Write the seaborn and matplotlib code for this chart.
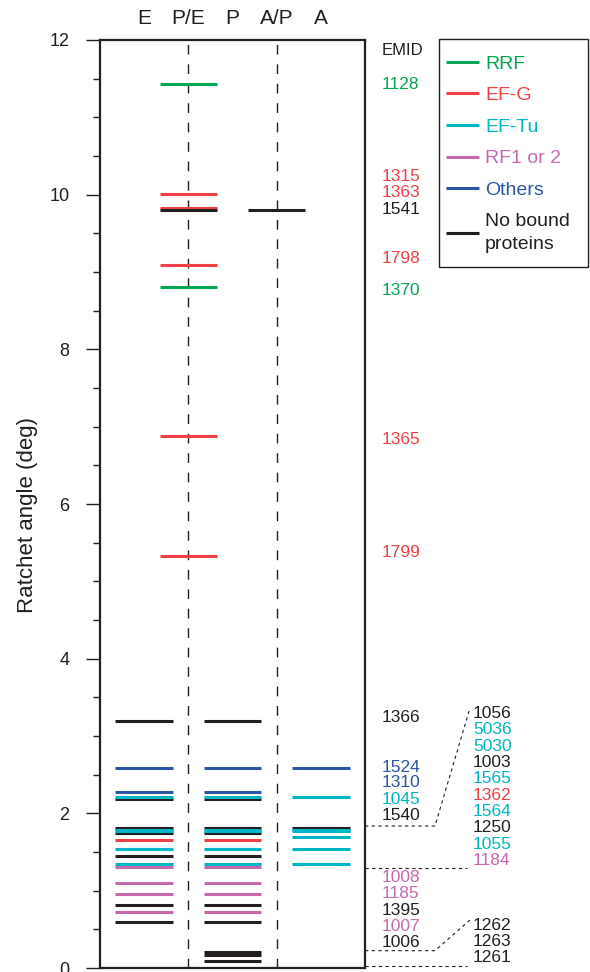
import matplotlib
matplotlib.use("Agg")
import numpy as np
import pandas as pd
import matplotlib.pyplot as plt
import seaborn as sns
from matplotlib.lines import Line2D
from matplotlib.patches import Rectangle

# data
columns = ["E", "P/E", "P", "A/P", "A"]

emid = [1128, 1315, 1363, 1541, 1798, 1370, 1365, 1799,
        1366, 1524, 1310, 1045, 1540,
        1056, 5036, 5030, 1003, 1565, 1362, 1564, 1250, 1055, 1184,
        1008, 1185, 1395, 1007, 1006,
        1262, 1263, 1261]
angle = [11.43, 10.01, 9.83, 9.80, 9.09, 8.81, 6.88, 5.33,
         3.19, 2.58, 2.27, 2.215, 2.185,
         1.81, 1.785, 1.77, 1.74, 1.70, 1.655, 1.54, 1.445, 1.34, 1.31,
         1.10, 0.96, 0.81, 0.73, 0.59,
         0.21, 0.17, 0.09]
protein = ["RRF", "EF-G", "EF-G", "None", "EF-G", "RRF", "EF-G", "EF-G",
           "None", "Others", "Others", "EF-Tu", "None",
           "None", "EF-Tu", "EF-Tu", "None", "EF-Tu", "EF-G", "EF-Tu", "None", "EF-Tu", "RF",
           "RF", "RF", "None", "RF", "None",
           "None", "None", "None"]
sites = ["P/E", "P/E", "P/E", "P/E A/P", "P/E", "P/E", "P/E", "P/E",
         "E P", "E P A", "E P", "E P A", "E P",
         "E P A", "E P A", "E P A", "E P", "A", "E P", "E P A", "E P", "E P A", "E P",
         "E P", "E P", "E P", "E P", "E P",
         "P", "P", "P"]

# ids listed in the two side columns
group1 = [1056, 5036, 5030, 1003, 1565, 1362, 1564, 1250, 1055, 1184]
group2 = [1262, 1263, 1261]

# label layout (y in deg) for the ids written right next to the axes
label_y = {1128: 11.42, 1315: 10.24, 1363: 10.03, 1541: 9.81, 1798: 9.18,
           1370: 8.76, 1365: 6.84, 1799: 5.37, 1366: 3.24, 1524: 2.595,
           1310: 2.40, 1045: 2.185, 1540: 1.975, 1008: 1.17, 1185: 0.966,
           1395: 0.75, 1007: 0.54, 1006: 0.33}

colors = {"RRF": "#00a651", "EF-G": "#ef4045", "EF-Tu": "#00b6c5",
          "RF": "#c66aad", "Others": "#2b56a5", "None": "#231f20"}
legend_names = {"RRF": "RRF", "EF-G": "EF-G", "EF-Tu": "EF-Tu",
                "RF": "RF1 or 2", "Others": "Others", "None": "No bound\nproteins"}
ink = "#231f20"

# long table: one segment per (map, site)
col_x = {c: i + 1 for i, c in enumerate(columns)}
half = 0.65
rows = []
for e, a, p, s in zip(emid, angle, protein, sites):
    for site in s.split():
        for dx in (-half, half):
            rows.append({"x": col_x[site] + dx, "y": a, "protein": p,
                         "seg": f"{e}_{site}"})
seg_df = pd.DataFrame(rows)

sns.set_style("ticks")
plt.rcParams["font.family"] = ["Liberation Sans", "DejaVu Sans"]

fig = plt.figure(figsize=(5.9, 9.72), dpi=100)
ax = fig.add_axes([100 / 590, 1 - 968 / 972, 265 / 590, 928 / 972])

ax.vlines([col_x["P/E"], col_x["A/P"]], 0, 12, colors=ink, lw=1,
          linestyles=(0, (7, 7)), zorder=1)

sns.lineplot(data=seg_df, x="x", y="y", hue="protein", units="seg",
             estimator=None, sort=False,
             hue_order=["RF", "EF-G", "RRF", "Others", "None", "EF-Tu"],
             palette=colors, lw=2.2, solid_capstyle="butt", legend=False,
             ax=ax, zorder=3)

ax.set_xlim(0, 6)
ax.set_ylim(0, 12)
ax.set_xticks([])
ax.set_yticks(np.arange(0, 13, 2))
ax.set_yticks(np.arange(0, 12.01, 0.5), minor=True)
ax.tick_params(axis="y", which="major", length=10, width=1, pad=12,
               labelsize=13, color=ink, labelcolor=ink)
ax.tick_params(axis="y", which="minor", length=5, width=1, color=ink)
ax.set_xlabel("")
ax.set_ylabel("Ratchet angle (deg)", fontsize=16, color=ink)
ax.yaxis.set_label_coords(-0.235, 0.488)
for sp in ax.spines.values():
    sp.set_visible(True)
    sp.set_linewidth(1.6)
    sp.set_color(ink)

# column headers
hdr = ax.get_xaxis_transform()
for c in columns:
    ax.text(col_x[c], 1.023, c, transform=hdr, ha="center", va="center",
            fontsize=15, color=ink)

# ids beside the axes
side = ax.get_yaxis_transform()
prot_of = dict(zip(emid, protein))
ax.text(1.064, 11.87, "EMID", transform=side, ha="left", va="center",
        fontsize=12, color=ink)
for e, ly in label_y.items():
    ax.text(1.064, ly, str(e), transform=side, ha="left", va="center",
            fontsize=12.5, color=colors[prot_of[e]])

for grp, top, step in ((group1, 3.29, 0.211), (group2, 0.547, 0.207)):
    for i, e in enumerate(grp):
        ax.text(1.408, top - i * step, str(e), transform=side, ha="left",
                va="center", fontsize=12.5, color=colors[prot_of[e]])

# dashed connectors to the side lists
dash = dict(transform=side, clip_on=False, color=ink, lw=0.8, ls=(0, (3, 3)))
ax.plot([1.0, 1.264, 1.396], [1.836, 1.836, 3.36], **dash)
ax.plot([1.0, 1.385], [1.293, 1.293], **dash)
ax.plot([1.0, 1.264, 1.396], [0.224, 0.224, 0.62], **dash)
ax.plot([1.0, 1.385], [0.03, 0.03], **dash)

# legend: frame drawn separately so the padding matches
fig.patches.append(Rectangle((439 / 590, 1 - 267 / 972), 149 / 590, 228 / 972,
                             transform=fig.transFigure, fill=False,
                             edgecolor=ink, lw=1.0))
order = ["RRF", "EF-G", "EF-Tu", "RF", "Others", "None"]
handles = [Line2D([], [], color=colors[k], lw=2.2, solid_capstyle="butt") for k in order]
leg = fig.legend(handles, [legend_names[k] for k in order], loc="upper left",
                 bbox_to_anchor=(446 / 590, 1 - 55 / 972),
                 bbox_transform=fig.transFigure, frameon=False,
                 fontsize=14, handlelength=1.7, handletextpad=0.3,
                 labelspacing=0.72, borderpad=0, borderaxespad=0)
for t, k in zip(leg.get_texts(), order):
    t.set_color(colors[k])
    t.set_linespacing(1.45)

fig.savefig("out.png", dpi=100)
